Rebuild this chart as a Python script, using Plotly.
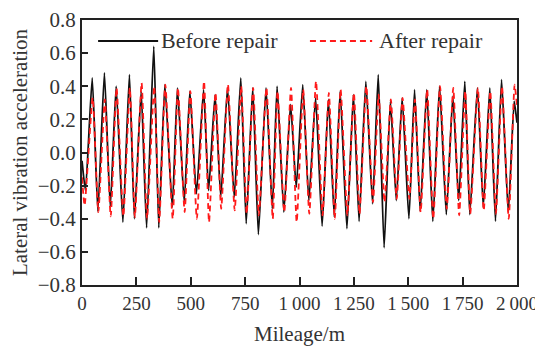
import plotly.graph_objects as go

# ---- data (extrema of the oscillation) ----
before_start_m = [0, 16]
before_start_v = [-0.05, -0.23]
before_peak_m = [47, 103, 157, 218, 272, 330, 381, 439, 496, 559, 612, 669, 730, 785, 846,
                 897, 959, 1015, 1074, 1133, 1187, 1248, 1305, 1362, 1418, 1472, 1529, 1585,
                 1644, 1705, 1760, 1818, 1875, 1929, 1987]
before_peak_v = [0.45, 0.48, 0.40, 0.47, 0.37, 0.64, 0.41, 0.39, 0.37, 0.38, 0.35, 0.39, 0.45,
                 0.39, 0.39, 0.40, 0.29, 0.41, 0.33, 0.32, 0.37, 0.35, 0.43, 0.47, 0.31, 0.33,
                 0.38, 0.38, 0.40, 0.34, 0.43, 0.39, 0.39, 0.44, 0.31]
before_trough_m = [73, 130, 188, 241, 297, 353, 415, 470, 526, 582, 638, 700, 755, 811, 875,
                   928, 985, 1043, 1104, 1160, 1218, 1274, 1336, 1389, 1445, 1503, 1555, 1613,
                   1675, 1732, 1783, 1845, 1901, 1960]
before_trough_v = [-0.355, -0.33, -0.42, -0.40, -0.455, -0.455, -0.33, -0.30, -0.25, -0.23,
                   -0.27, -0.27, -0.43, -0.495, -0.34, -0.36, -0.21, -0.29, -0.445, -0.39,
                   -0.46, -0.415, -0.31, -0.575, -0.29, -0.40, -0.355, -0.415, -0.375, -0.29,
                   -0.375, -0.33, -0.415, -0.36]
before_end_m = [2000]
before_end_v = [0.18]

after_start_m = [0, 12]
after_start_v = [-0.15, -0.32]
after_peak_m = [49, 105, 159, 220, 274, 332, 383, 441, 498, 561, 614, 671, 732, 787, 848,
                899, 961, 1017, 1076, 1135, 1189, 1250, 1307, 1364, 1420, 1474, 1531, 1587,
                1646, 1707, 1762, 1820, 1877, 1931, 1989]
after_peak_v = [0.33, 0.32, 0.39, 0.39, 0.42, 0.40, 0.41, 0.39, 0.37, 0.43, 0.36, 0.41, 0.40,
                0.39, 0.39, 0.37, 0.39, 0.38, 0.43, 0.36, 0.38, 0.36, 0.40, 0.35, 0.32, 0.33,
                0.32, 0.38, 0.40, 0.39, 0.37, 0.39, 0.37, 0.40, 0.41]
after_trough_m = [75, 132, 190, 243, 299, 355, 417, 472, 528, 584, 640, 702, 757, 813, 877,
                  930, 987, 1045, 1106, 1162, 1220, 1276, 1338, 1391, 1447, 1505, 1557, 1615,
                  1677, 1734, 1785, 1847, 1903, 1962]
after_trough_v = [-0.36, -0.385, -0.385, -0.39, -0.40, -0.42, -0.40, -0.36, -0.40, -0.42,
                  -0.34, -0.35, -0.37, -0.38, -0.40, -0.36, -0.42, -0.37, -0.38, -0.40,
                  -0.38, -0.37, -0.30, -0.30, -0.28, -0.28, -0.36, -0.40, -0.34, -0.38,
                  -0.37, -0.35, -0.37, -0.40]
after_end_m = [2000]
after_end_v = [0.28]

x_tick_vals = [0, 250, 500, 750, 1000, 1250, 1500, 1750, 2000]
x_tick_text = ["0", "250", "500", "750", "1\u2009000", "1\u2009250", "1\u2009500",
               "1\u2009750", "2\u2009000"]
y_tick_vals = [0.8, 0.6, 0.4, 0.2, 0.0, -0.2, -0.4, -0.6, -0.8]
y_tick_text = ["0.8", "0.6", "0.4", "0.2", "0.0", "\u22120.2", "\u22120.4", "\u22120.6", "\u22120.8"]


def build(start_m, start_v, pk_m, pk_v, tr_m, tr_v, end_m, end_v):
    xs, ys = list(start_m), list(start_v)
    for i in range(len(pk_m)):
        xs.append(pk_m[i]); ys.append(pk_v[i])
        if i < len(tr_m):
            xs.append(tr_m[i]); ys.append(tr_v[i])
    xs += end_m; ys += end_v
    return xs, ys


bx, by = build(before_start_m, before_start_v, before_peak_m, before_peak_v,
               before_trough_m, before_trough_v, before_end_m, before_end_v)
ax, ay = build(after_start_m, after_start_v, after_peak_m, after_peak_v,
               after_trough_m, after_trough_v, after_end_m, after_end_v)

FONT = "Liberation Serif"
fig = go.Figure()
fig.add_trace(go.Scatter(x=bx, y=by, mode="lines", name="Before repair",
                         line=dict(color="#111111", width=1.8, shape="spline", smoothing=0.5)))
fig.add_trace(go.Scatter(x=ax, y=ay, mode="lines", name="After repair",
                         line=dict(color="#ff1a1a", width=1.8, dash="6px,4px",
                                   shape="spline", smoothing=0.5)))

# legend drawn manually to match sample lengths
fig.add_shape(type="line", xref="paper", yref="paper", x0=0.037, x1=0.175, y0=0.921, y1=0.921,
              line=dict(color="#111111", width=2))
fig.add_shape(type="line", xref="paper", yref="paper", x0=0.524, x1=0.667, y0=0.921, y1=0.921,
              line=dict(color="#ff1a1a", width=2, dash="6px,4px"))
fig.add_annotation(xref="paper", yref="paper", x=0.177, y=0.921, text="Before repair",
                   showarrow=False, xanchor="left", yanchor="middle",
                   font=dict(family=FONT, size=22, color="#333333"))
fig.add_annotation(xref="paper", yref="paper", x=0.678, y=0.921, text="After repair",
                   showarrow=False, xanchor="left", yanchor="middle",
                   font=dict(family=FONT, size=22, color="#333333"))

# the page body adds an 8px offset; figure is sized/margined to compensate
fig.update_layout(
    width=535, height=340,
    margin=dict(l=74, r=26, t=12, b=63),
    paper_bgcolor="white", plot_bgcolor="white",
    showlegend=False,
    font=dict(family=FONT, size=21, color="#333333"),
)
fig.update_xaxes(range=[0, 2000], tickvals=x_tick_vals, ticktext=x_tick_text,
                 tickfont=dict(family=FONT, size=19),
                 ticks="inside", ticklen=8, tickwidth=2, tickcolor="#222",
                 showline=True, linecolor="#222", linewidth=2, mirror=True,
                 showgrid=False, zeroline=False, automargin=False,
                 title=dict(text="Mileage/m", font=dict(family=FONT, size=21), standoff=14))
fig.update_yaxes(range=[-0.8, 0.8], tickvals=y_tick_vals, ticktext=y_tick_text,
                 ticks="inside", ticklen=6, tickwidth=2, tickcolor="#222",
                 showline=True, linecolor="#222", linewidth=2, mirror=True,
                 showgrid=False, zeroline=False, automargin=False,
                 title=dict(text="Lateral vibration acceleration", font=dict(family=FONT, size=21),
                            standoff=6))

fig.write_html("out.html")
